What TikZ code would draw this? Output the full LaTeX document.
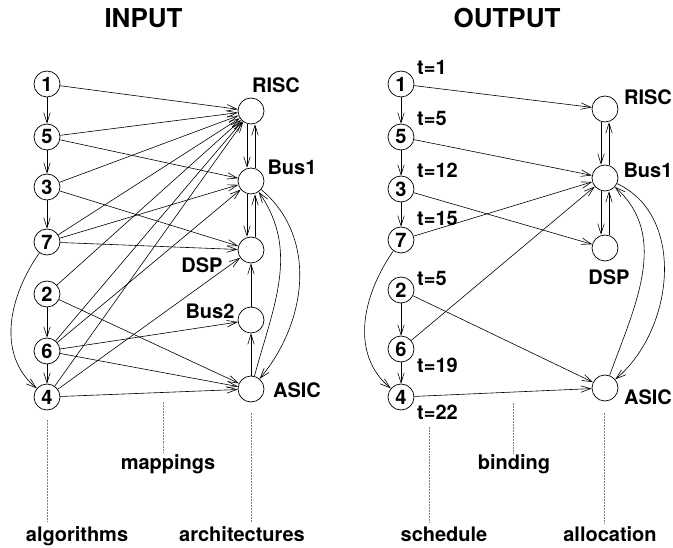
\documentclass[tikz,border=0pt]{standalone}
\usepackage{fontspec}
\setmainfont{TeX Gyre Heros}
\usetikzlibrary{arrows.meta}
\begin{document}
\begin{tikzpicture}[x=1pt,y=1pt,
  every node/.style={font=\fontsize{20}{22}\selectfont\bfseries},
  vert/.style={circle,draw,line width=0.7pt,minimum size=26pt,inner sep=0pt},
  lbl/.style={inner sep=0pt},
  ttl/.style={inner sep=0pt,font=\fontsize{26}{28}\selectfont\bfseries},
  arr/.style={-{Straight Barb[length=10pt,width=6.5pt]}, line width=0.6pt},
  dots/.style={densely dotted, line width=0.5pt, gray}]
\useasboundingbox (0,0) rectangle (673,-548);

% titles
\node[ttl] (tin) at (143.5,-18.5) {INPUT};
\node[ttl] (tout) at (507,-18.5) {OUTPUT};

% ---------- INPUT ----------
\node[vert] (a1) at (47,-84) {1};
\node[vert] (a5) at (47,-137) {5};
\node[vert] (a3) at (47,-187) {3};
\node[vert] (a7) at (47,-242) {7};
\node[vert] (a2) at (47,-294) {2};
\node[vert] (a6) at (47,-351) {6};
\node[vert] (a4) at (47,-397) {4};

\node[vert] (risc) at (251,-111) {};
\node[vert] (bus1) at (251,-181) {};
\node[vert] (dsp)  at (251,-250) {};
\node[vert] (bus2) at (251,-320) {};
\node[vert] (asic) at (251,-389) {};

\node[lbl] (lrisc) at (276,-85) {RISC};
\node[lbl] (lbus1) at (292,-167) {Bus1};
\node[lbl] (ldsp)  at (202,-265) {DSP};
\node[lbl] (lbus2) at (210,-311) {Bus2};
\node[lbl] (lasic) at (297,-390) {ASIC};

% precedence
\draw[arr] (a1) -- (a5);
\draw[arr] (a5) -- (a3);
\draw[arr] (a3) -- (a7);
\draw[arr] (a2) -- (a6);
\draw[arr] (a6) -- (a4);
\draw[arr] (a7) to[out=235,in=140] (a4);

% mappings
\draw[arr] (a1) -- (risc);
\draw[arr] (a5) -- (risc);
\draw[arr] (a5) -- (bus1);
\draw[arr] (a3) -- (risc);
\draw[arr] (a3) -- (dsp);
\draw[arr] (a7) -- (risc);
\draw[arr] (a7) -- (bus1);
\draw[arr] (a7) -- (dsp);
\draw[arr] (a2) -- (risc);
\draw[arr] (a2) -- (asic);
\draw[arr] (a6) -- (risc);
\draw[arr] (a6) -- (bus1);
\draw[arr] (a6) -- (bus2);
\draw[arr] (a6) -- (asic);
\draw[arr] (a4) -- (risc);
\draw[arr] (a4) -- (dsp);
\draw[arr] (a4) -- (asic);

% architecture
\draw[arr] ([xshift=-4pt]risc.south) -- ([xshift=-4pt]bus1.north);
\draw[arr] ([xshift=4pt]bus1.north) -- ([xshift=4pt]risc.south);
\draw[arr] ([xshift=-4pt]bus1.south) -- ([xshift=-4pt]dsp.north);
\draw[arr] ([xshift=4pt]dsp.north) -- ([xshift=4pt]bus1.south);
\draw[arr] (bus2) -- (dsp);
\draw[arr] (asic) -- (bus2);
\draw[arr] (bus1) to[out=-40,in=50] (asic);
\draw[arr] (asic) to[out=75,in=-55] (bus1);

% ---------- OUTPUT ----------
\node[vert] (b1) at (401,-84) {1};
\node[vert] (b5) at (401,-137) {5};
\node[vert] (b3) at (401,-189) {3};
\node[vert] (b7) at (401,-240) {7};
\node[vert] (b2) at (401,-290) {2};
\node[vert] (b6) at (401,-349) {6};
\node[vert] (b4) at (401,-397) {4};

\node[vert] (rrisc) at (605,-109) {};
\node[vert] (rbus1) at (605,-178) {};
\node[vert] (rdsp)  at (605,-248) {};
\node[vert] (rasic) at (605,-388) {};

\node[lbl] (lrrisc) at (648,-97) {RISC};
\node[lbl] (lrbus1) at (648,-170) {Bus1};
\node[lbl] (lrdsp)  at (609,-277) {DSP};
\node[lbl] (lrasic) at (648,-397) {ASIC};

\node[lbl,anchor=west] (t1) at (417,-67) {t=1};
\node[lbl,anchor=west] (t5) at (417,-119) {t=5};
\node[lbl,anchor=west] (t3) at (417,-170) {t=12};
\node[lbl,anchor=west] (t7) at (417,-219) {t=15};
\node[lbl,anchor=west] (t2) at (417,-279) {t=5};
\node[lbl,anchor=west] (t6) at (417,-365) {t=19};
\node[lbl,anchor=west] (t4) at (417,-412) {t=22};

\draw[arr] (b1) -- (b5);
\draw[arr] (b5) -- (b3);
\draw[arr] (b3) -- (b7);
\draw[arr] (b2) -- (b6);
\draw[arr] (b6) -- (b4);
\draw[arr] (b7) to[out=235,in=140] (b4);

\draw[arr] (b1) -- (rrisc);
\draw[arr] (b5) -- (rbus1);
\draw[arr] (b3) -- (rdsp);
\draw[arr] (b7) -- (rbus1);
\draw[arr] (b6) -- (rbus1);
\draw[arr] (b2) -- (rasic);
\draw[arr] (b4) -- (rasic);

\draw[arr] ([xshift=-4pt]rrisc.south) -- ([xshift=-4pt]rbus1.north);
\draw[arr] ([xshift=4pt]rbus1.north) -- ([xshift=4pt]rrisc.south);
\draw[arr] ([xshift=-4pt]rbus1.south) -- ([xshift=-4pt]rdsp.north);
\draw[arr] ([xshift=4pt]rdsp.north) -- ([xshift=4pt]rbus1.south);
\draw[arr] (rbus1) to[out=-25,in=40] (rasic);
\draw[arr] (rasic) to[out=70,in=-42] (rbus1);

% ---------- bottom labels ----------
\node[lbl,anchor=base] (alg) at (77,-541) {algorithms};
\node[lbl,anchor=base] (arch) at (242,-541) {architectures};
\node[lbl,anchor=base] (map) at (168,-470) {mappings};
\node[lbl,anchor=base] (sch) at (444,-541) {schedule};
\node[lbl,anchor=base] (all) at (610,-541) {allocation};
\node[lbl,anchor=base] (bin) at (514,-470) {binding};

\coordinate (d1a) at (47,-420);  \coordinate (d1b) at (47,-522);
\coordinate (d2a) at (251,-413); \coordinate (d2b) at (251,-522);
\coordinate (d3a) at (163,-402); \coordinate (d3b) at (163,-453);
\coordinate (d4a) at (429,-427); \coordinate (d4b) at (429,-523);
\coordinate (d5a) at (513,-403); \coordinate (d5b) at (513,-453);
\coordinate (d6a) at (604,-413); \coordinate (d6b) at (604,-523);
\draw[dots] (d1a) -- (d1b);
\draw[dots] (d2a) -- (d2b);
\draw[dots] (d3a) -- (d3b);
\draw[dots] (d4a) -- (d4b);
\draw[dots] (d5a) -- (d5b);
\draw[dots] (d6a) -- (d6b);
\end{tikzpicture}
\end{document}
